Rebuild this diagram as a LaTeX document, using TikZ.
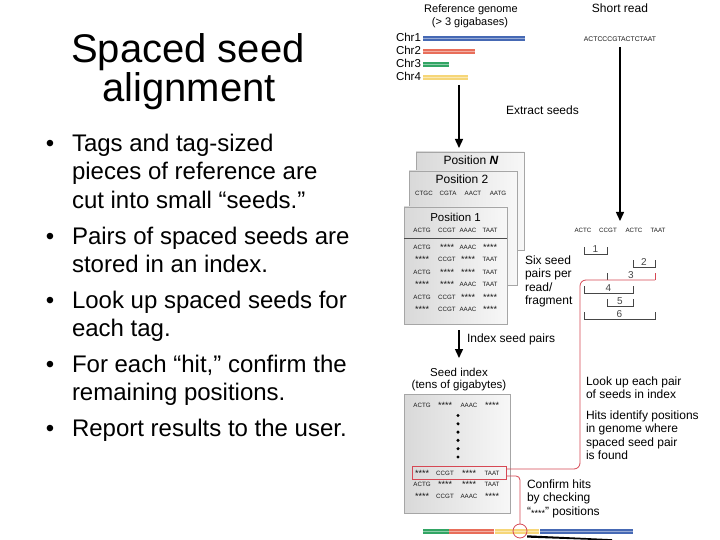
\documentclass[tikz,border=0pt]{standalone}
\usepackage{fontspec}
\setmainfont{Liberation Sans}
\usetikzlibrary{arrows.meta,shadows}
\definecolor{cblue}{RGB}{70,105,180}
\definecolor{cred}{RGB}{232,110,90}
\definecolor{cgreen}{RGB}{50,165,100}
\definecolor{cyellow}{RGB}{246,214,120}
\definecolor{lnred}{RGB}{214,72,84}
\definecolor{brk}{RGB}{70,70,70}
\newcommand\seedstars{\raisebox{-1.4pt}{\fontsize{9}{9}\selectfont ****}}
\begin{document}
\begin{tikzpicture}[x=1pt,y=-1pt,
  every node/.style={inner sep=0pt, outer sep=0pt},
  big/.style={font=\fontsize{24}{28}\selectfont, anchor=base west},
  bul/.style={font=\fontsize{24}{28}\selectfont, anchor=base},
  ttl/.style={font=\fontsize{40}{44}\selectfont, anchor=base},
  lbl/.style={font=\fontsize{12}{14}\selectfont, anchor=base west},
  lblc/.style={font=\fontsize{11.5}{13}\selectfont, anchor=base},
  seq/.style={font=\fontsize{6.2}{7}\selectfont, anchor=base, text=black!90},
  card/.style={draw=gray!70, line width=0.6pt, left color=gray!30, right color=gray!6,
     drop shadow={opacity=0.25, shadow xshift=1.2pt, shadow yshift=-1.2pt},
     anchor=north west},
  chrbar/.style={line width=4.5pt},
  flow/.style={line width=1.4pt, -{Triangle[length=9pt,width=8pt]}},
  bracket/.style={draw=brk, line width=0.7pt},
  hit/.style={draw=lnred, line width=0.8pt},
  num/.style={font=\fontsize{10}{11}\selectfont, anchor=base, text=brk},
]
\useasboundingbox (0,0) rectangle (720,540);
\fill[white] (0,0) rectangle (720,540);

% ---------- title ----------
\node[ttl] (t1) at (188,63) {Spaced seed};
\node[ttl] (t2) at (189,102) {alignment};

% ---------- bullets ----------
\foreach \y/\n in {152/1,244/2,308/3,372/4,436/5}
  \node[bul] (dot\n) at (50,\y) {•};
\node[big] (l1) at (72,152) {Tags and tag-sized};
\node[big] (l2) at (72,180) {pieces of reference are};
\node[big] (l3) at (72,208) {cut into small “seeds.”};
\node[big] (l4) at (72,244) {Pairs of spaced seeds are};
\node[big] (l5) at (72,272) {stored in an index.};
\node[big] (l6) at (72,308) {Look up spaced seeds for};
\node[big] (l7) at (72,336) {each tag.};
\node[big] (l8) at (72,372) {For each “hit,” confirm the};
\node[big] (l9) at (72,400) {remaining positions.};
\node[big] (l10) at (72,436) {Report results to the user.};

% ---------- top labels ----------
\node[font=\fontsize{11}{13}\selectfont, anchor=base] (refg) at (471,13) {Reference genome};
\node[font=\fontsize{11}{13}\selectfont, anchor=base] (refg2) at (470,26) {(> 3 gigabases)};
\node[font=\fontsize{12}{14}\selectfont, anchor=base] (sr) at (620,13) {Short read};

% chromosomes
\foreach \y/\n/\len/\c in {42/1/525/cblue,55/2/475/cred,68/3/449/cgreen,81/4/468/cyellow}{
  \node[font=\fontsize{11.5}{13}\selectfont, anchor=base west] (chr\n) at (396,\y) {Chr\n};
  \draw[chrbar, \c] (423,\y-3.5) -- (\len,\y-3.5);
  \draw[line width=0.9pt, \c!55!white] (423,\y-3.5) -- (\len,\y-3.5);
}

\node[font=\fontsize{6.8}{8}\selectfont, anchor=base, text=black!90] (sread) at (620,42) {ACTCCCGTACTCTAAT};

\coordinate (gsrc) at (459,85);
\coordinate (gdst) at (459,148);
\coordinate (rsrc) at (620,47);
\coordinate (rdst) at (620,221);
\draw[flow] (gsrc) -- (gdst);
\draw[flow] (rsrc) -- (rdst);
\node[lbl, anchor=base] (extract) at (542.5,115) {Extract seeds};

% ---------- position cards ----------
\node[card, minimum width=108, minimum height=98] (cardN) at (416,152) {};
\node[font=\fontsize{12}{14}\selectfont, anchor=base] (posN) at (471,165) {Position \textit{\textbf{N}}};

\node[card, minimum width=108, minimum height=114] (card2) at (409,171) {};
\node[font=\fontsize{12}{14}\selectfont, anchor=base] (pos2) at (462,184) {Position 2};
\foreach \x/\s in {424/CTGC,448/CGTA,473/AACT,498/AATG}
  \node[seq] (p2\s) at (\x,196) {\s};

\node[card, minimum width=103, minimum height=117] (card1) at (404,207) {};
\node[font=\fontsize{11.5}{13}\selectfont, anchor=base] (pos1) at (455.5,221.5) {Position 1};
\foreach \x/\s in {422/ACTG,447/CCGT,468/AAAC,490/TAAT}
  \node[seq] (p1\s) at (\x,233) {\s};
\draw[gray!60!black, line width=0.6pt] (card1.west |- 0,238) -- (card1.east |- 0,238);

\foreach \y/\a/\b/\c/\d [count=\r] in {
   249/ACTG/\seedstars/AAAC/\seedstars,
   261.5/\seedstars/CCGT/\seedstars/TAAT,
   274/ACTG/\seedstars/\seedstars/TAAT,
   286.5/\seedstars/\seedstars/AAAC/TAAT,
   299/ACTG/CCGT/\seedstars/\seedstars,
   311.5/\seedstars/CCGT/AAAC/\seedstars}{
  \node[seq] (r\r a) at (422,\y) {\a};
  \node[seq] (r\r b) at (447,\y) {\b};
  \node[seq] (r\r c) at (468,\y) {\c};
  \node[seq] (r\r d) at (490,\y) {\d};
}

\node[lbl] (six1) at (525,264) {Six seed};
\node[lbl] (six2) at (525,277.5) {pairs per};
\node[lbl] (six3) at (525,291) {read/};
\node[lbl] (six4) at (525,304.5) {fragment};

% read seeds
\foreach \x/\s [count=\k] in {583/ACTC,608/CCGT,634/ACTC,658/TAAT}
  \node[seq] (rs\k) at (\x,233) {\s};

% brackets
\foreach \xa/\xb/\yb/\n in {584/607/254/1,633/655/267/2,584/633/293/4,607/633/306/5,584/655/319/6}{
  \draw[bracket] (\xa,\yb-7) -- (\xa,\yb) -- (\xb,\yb) -- (\xb,\yb-7);
  \node[num] (br\n) at ({(\xa+\xb)/2},\yb-1.5) {\n};
}
\draw[bracket] (607,273) -- (607,280);
\node[num] (br3) at (631,278.5) {3};
\draw[hit] (655,273) -- (655,280);

% ---------- index ----------
\coordinate (isrc) at (459,330);
\coordinate (idst) at (459,358);
\draw[flow] (isrc) -- (idst);
\node[lbl] (isp) at (467,342) {Index seed pairs};
\node[lblc] (si1) at (459,376) {Seed index};
\node[lblc] (si2) at (459,388) {(tens of gigabytes)};

\node[card, minimum width=106, minimum height=119] (sidx) at (404,394) {};
\foreach \x/\s [count=\k] in {422/ACTG,445/\seedstars,469/AAAC,492/\seedstars}
  \node[seq] (i1\k) at (\x,407) {\s};
\foreach \y in {415.5,423.8,432.1,440.4,448.7,457}
  \fill (458,\y) circle (1.7);
\foreach \y/\a/\b/\c/\d [count=\r] in {
   475/\seedstars/CCGT/\seedstars/TAAT,
   486.5/ACTG/\seedstars/\seedstars/TAAT,
   498/\seedstars/CCGT/AAAC/\seedstars}{
  \node[seq] (ir\r a) at (422,\y) {\a};
  \node[seq] (ir\r b) at (445,\y) {\b};
  \node[seq] (ir\r c) at (469,\y) {\c};
  \node[seq] (ir\r d) at (492,\y) {\d};
}
\node[hit, draw, minimum width=94, minimum height=13, anchor=north west] (hitbox) at (412,466) {};

% ---------- look-up path ----------
\coordinate (b3r) at (655,280);
\coordinate (hitA) at (hitbox.east |- 0,469);
\draw[hit, rounded corners=6pt] (b3r) -- (580,280) -- (580,469) -- (hitA);

\node[lbl] (lk1) at (586,385) {Look up each pair};
\node[lbl] (lk2) at (586,398.5) {of seeds in index};
\node[lbl] (lk3) at (586,419) {Hits identify positions};
\node[lbl] (lk4) at (586,432.5) {in genome where};
\node[lbl] (lk5) at (586,446) {spaced seed pair};
\node[lbl] (lk6) at (586,459.5) {is found};

% ---------- confirm ----------
\node[lbl] (cf1) at (527,488) {Confirm hits};
\node[lbl] (cf2) at (527,501.5) {by checking};
\node[lbl] (cf3) at (527,515) {“\raisebox{-1.5pt}{\fontsize{9}{9}\selectfont ****}” positions};

% genome bar
\draw[chrbar, line width=5pt, cgreen] (423,531) -- (449,531);
\draw[chrbar, line width=5pt, cred] (449,531) -- (494,531);
\draw[chrbar, line width=5pt, cyellow] (495,531) -- (539,531);
\draw[chrbar, line width=5pt, cblue] (540,531) -- (633,531);
\foreach \xa/\xb/\c in {423/449/cgreen,449/494/cred,495/539/cyellow,540/633/cblue}
  \draw[line width=0.9pt, \c!55!white] (\xa,531) -- (\xb,531);

\node[hit, draw, circle, minimum size=14] (hitc) at (520,531) {};
\coordinate (hitB) at (hitbox.east |- 0,476);
\draw[hit, rounded corners=4pt] (hitB) -- (520,476) -- (hitc.north);

\fill[black] (527,535.3) -- (612,539.2) -- (612,540.6) -- (527,537.6) -- cycle;
\end{tikzpicture}
\end{document}
